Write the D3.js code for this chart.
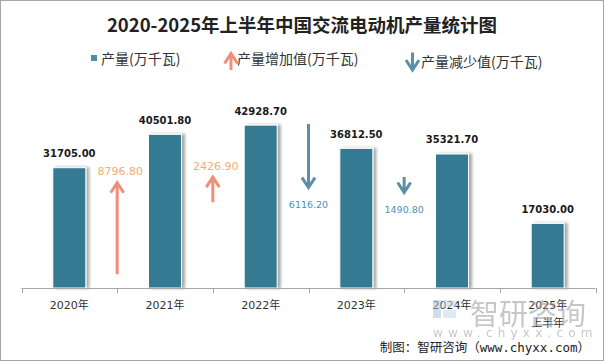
<!DOCTYPE html>
<html>
<head>
<meta charset="utf-8">
<script src="https://cdn.jsdelivr.net/npm/d3@7"></script>
<style>
body { margin:0; background:#fff; }
svg { display:block; }
</style>
</head>
<body>
<script>
// data
var years = ["2020年","2021年","2022年","2023年","2024年","2025年\n上半年"];
var output = [31705.00,40501.80,42928.70,36812.50,35321.70,17030.00];
var change = [8796.80,2426.90,-6116.20,-1490.80];
// arrow tails on the secondary axis
var arrowBase = [1320,8240,15770,10670];

var width = 604, height = 361;
var baseY = 288;

var svg = d3.select("body").append("svg").attr("width",width).attr("height",height);

var defs = svg.append("defs");
var f = defs.append("filter").attr("id","shadow").attr("x","-20%").attr("y","-5%").attr("width","160%").attr("height","115%");
f.append("feDropShadow").attr("dx",3).attr("dy",0).attr("stdDeviation",1.6).attr("flood-color","#000").attr("flood-opacity",0.35);

svg.append("rect").attr("x",0.5).attr("y",0.5).attr("width",width-1).attr("height",height-1)
	.attr("fill","#fff").attr("stroke","#a6a6a6");

// title
svg.append("text").attr("x",302).attr("y",24).attr("text-anchor","middle").attr("dominant-baseline","central")
	.style("font-family","'Noto Sans CJK SC'").style("font-weight","bold").style("font-size","18.5px").attr("fill","#222")
	.text("2020-2025年上半年中国交流电动机产量统计图");

// scales
var x = d3.scaleBand().domain(years).range([21.5,595.5]).padding(0);
var bw = x.bandwidth();
var barW = bw*0.345;
var y = d3.scaleLinear().domain([0,50000]).range([baseY,baseY-189.7]);
var y2 = d3.scaleLinear().domain([0,18000]).range([baseY,baseY-18000*0.0104]);

// bars
var bars = svg.append("g");
bars.selectAll("rect").data(output).enter().append("rect")
	.attr("x",function(d,i){ return x(years[i])+(bw-barW)/2; })
	.attr("y",function(d){ return y(d); })
	.attr("width",barW)
	.attr("height",function(d){ return baseY-y(d); })
	.attr("fill","#367a93")
	.attr("stroke","#fff").attr("stroke-width",1)
	.attr("filter","url(#shadow)");

bars.selectAll("text").data(output).enter().append("text")
	.attr("x",function(d,i){ return x(years[i])+bw/2; })
	.attr("y",function(d){ return y(d)-14; })
	.attr("text-anchor","middle").attr("dominant-baseline","central")
	.style("font-family","'DejaVu Sans'").style("font-weight","bold").style("font-size","10px").attr("fill","#1a1a1a")
	.text(function(d){ return d.toFixed(2); });

// axis
var axis = svg.append("g");
axis.append("line").attr("x1",x.range()[0]).attr("x2",x.range()[1]).attr("y1",baseY+0.5).attr("y2",baseY+0.5)
	.attr("stroke","#a6a6a6");
var edges = [x(years[0])].concat(years.map(function(c){ return x(c)+bw; }));
axis.selectAll("line.tick").data(edges).enter().append("line").attr("class","tick")
	.attr("x1",function(d){ return Math.round(d)+0.5; }).attr("x2",function(d){ return Math.round(d)+0.5; })
	.attr("y1",baseY).attr("y2",baseY+5).attr("stroke","#a6a6a6");
var lab = axis.selectAll("text").data(years).enter().append("text")
	.attr("x",function(d){ return x(d)+bw/2; })
	.attr("y",305)
	.attr("text-anchor","middle").attr("dominant-baseline","central")
	.style("font-family","'DejaVu Sans','Noto Sans CJK SC'").style("font-size","11px").attr("fill","#333");
lab.selectAll("tspan").data(function(d){ return d.split("\n"); }).enter().append("tspan")
	.attr("x",function(){ var p = this.parentNode; return p.getAttribute("x"); })
	.attr("dy",function(d,i){ return i ? 18 : 0; })
	.text(function(d){ return d; });

// change arrows
var upColor = "#ef8f79", downColor = "#5b8fa8";
function arrowPath(xp,y0,y1){
	var dir = y1<y0 ? 1 : -1; // 1 = up
	var h = 10, w = 6.5;
	return "M"+xp+","+y0+"L"+xp+","+(y1+dir*1.5)+
		"M"+(xp-w)+","+(y1+dir*h)+"L"+xp+","+y1+"L"+(xp+w)+","+(y1+dir*h);
}
var arrows = svg.append("g");
arrows.selectAll("path").data(change).enter().append("path")
	.attr("d",function(d,i){
		var xp = x(years[i])+bw;
		var t = arrowBase[i];
		var e = d>0 ? t+d : t+d;
		return arrowPath(xp,y2(t),y2(e));
	})
	.attr("fill","none").attr("stroke-width",3)
	.attr("stroke",function(d){ return d>0 ? upColor : downColor; });

arrows.selectAll("text").data(change).enter().append("text")
	.attr("x",function(d,i){ return x(years[i])+bw+(d>0?3:0); })
	.attr("y",function(d,i){ var e = y2(arrowBase[i]+d); return d>0 ? e-11 : e+17; })
	.attr("text-anchor","middle").attr("dominant-baseline","central")
	.style("font-family","'DejaVu Sans'")
	.style("font-size",function(d){ return d>0 ? "11px" : "9.5px"; })
	.attr("fill",function(d){ return d>0 ? "#f4ad72" : "#4f8db0"; })
	.text(function(d){ return Math.abs(d).toFixed(2); });

// legend
var leg = svg.append("g").style("font-family","'Noto Sans CJK SC'").style("font-size","14px").attr("fill","#333");
leg.append("rect").attr("x",91).attr("y",55).attr("width",6).attr("height",6).attr("fill","#4a90a8");
leg.append("text").attr("x",101).attr("y",58).attr("dominant-baseline","central").text("产量(万千瓦)");
leg.append("path").attr("d",arrowPath(231,70,53.5)).attr("fill","none").attr("stroke",upColor).attr("stroke-width",3);
leg.append("text").attr("x",237).attr("y",58).attr("dominant-baseline","central").text("产量增加值(万千瓦)");
leg.append("path").attr("d",arrowPath(412.5,52.5,70)).attr("fill","none").attr("stroke",downColor).attr("stroke-width",3);
leg.append("text").attr("x",421).attr("y",61).attr("dominant-baseline","central").text("产量减少值(万千瓦)");

// watermark
var wm = svg.append("g").attr("opacity",0.55);
wm.append("rect").attr("x",433).attr("y",300).attr("width",8).attr("height",18).attr("fill","#a9c4da");
wm.append("path").attr("d","M443,300h10a3,3 0 0 1 3,3v4h-13z M443,310h13v8h-13z").attr("fill","#c6d9e8");
wm.append("text").attr("x",470).attr("y",312).attr("dominant-baseline","central")
	.style("font-family","'Noto Sans CJK SC'").style("font-size","29px").attr("fill","#9a9a9a").text("智研咨询");
wm.append("text").attr("x",433).attr("y",333).attr("dominant-baseline","central")
	.style("font-family","'DejaVu Sans'").style("font-size","12px").style("letter-spacing","5.2px").attr("fill","#9a9a9a").text("www.chyxx.com");

// source
svg.append("text").attr("x",590).attr("y",347).attr("text-anchor","end").attr("dominant-baseline","central")
	.style("font-family","'DejaVu Sans Mono','Noto Sans CJK SC'").style("font-size","12.5px").attr("fill","#222")
	.text("制图：智研咨询（www.chyxx.com）");
</script>
</body>
</html>
